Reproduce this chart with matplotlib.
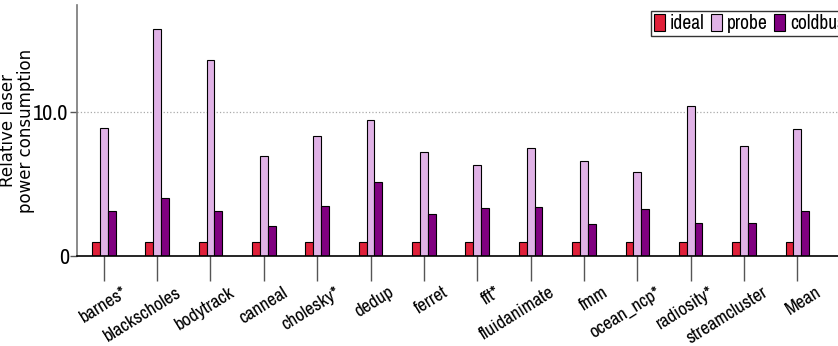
import numpy as np
import matplotlib.pyplot as plt
import matplotlib.transforms as mtransforms

benchmarks = ["barnes*", "blackscholes", "bodytrack", "canneal", "cholesky*",
              "dedup", "ferret", "fft*", "fluidanimate", "fmm", "ocean_ncp*",
              "radiosity*", "streamcluster", "Mean"]
ideal = [1.0] * 14
probe = [8.9, 15.7, 13.6, 6.9, 8.3, 9.4, 7.2, 6.3, 7.5, 6.6, 5.8, 10.4, 7.6, 8.8]
coldbus = [3.1, 4.0, 3.15, 2.1, 3.5, 5.1, 2.9, 3.35, 3.4, 2.25, 3.25, 2.3, 2.3, 3.1]

narrow = ["Archivo Narrow", "DejaVu Sans"]

fig = plt.figure(figsize=(8.38, 3.46), dpi=100)
ax = fig.add_axes([0.092, 0.26, 0.92, 0.726])

x = np.arange(len(benchmarks))
w = 0.147
ax.bar(x - w, ideal, w, color="#e0203a", edgecolor="black", linewidth=0.8, label="ideal")
ax.bar(x, probe, w, color="#e0b2e6", edgecolor="black", linewidth=0.8, label="probe")
ax.bar(x + w, coldbus, w, color="#800080", edgecolor="black", linewidth=0.8, label="coldbus")

ax.set_xlim(-0.5, 13.95)
ax.set_ylim(0, 17.4)
ax.axhline(10, color="#aaaaaa", linestyle=":", linewidth=0.9, zorder=0)

ax.tick_params(axis="x", length=18, width=1, color="#555555", pad=0)
ax.tick_params(axis="y", length=5, width=1, color="#555555", pad=1)

ax.set_yticks([0, 10])
ax.set_yticklabels(["0", "10.0"], fontsize=16, family=narrow)

ax.set_xticks(x)
ax.set_xticklabels(benchmarks, rotation=32, ha="right", va="top",
                   rotation_mode="anchor", fontsize=13.5, family=narrow)
# push the slanted labels a little to the right of their ticks
shift = mtransforms.ScaledTranslation(18 / 100, -3 / 100, fig.dpi_scale_trans)
for lbl in ax.get_xticklabels():
    lbl.set_transform(lbl.get_transform() + shift)

for s in ["top", "right"]:
    ax.spines[s].set_visible(False)
ax.spines["left"].set_color("#777777")
ax.spines["left"].set_linewidth(1.2)
ax.spines["bottom"].set_linewidth(1.2)

ax.set_ylabel("Relative laser\npower consumption", fontsize=12, linespacing=1.0)
ax.yaxis.set_label_coords(-0.054, 0.5)

ax.legend(loc="upper left", bbox_to_anchor=(0.737, 1.0), ncol=3,
          prop={"family": narrow, "size": 14},
          frameon=True, fancybox=False, edgecolor="black", handlelength=0.55,
          handleheight=1.0, handletextpad=0.25, columnspacing=0.35,
          borderpad=0.15, borderaxespad=0.3)

fig.savefig("out.png", dpi=100)
